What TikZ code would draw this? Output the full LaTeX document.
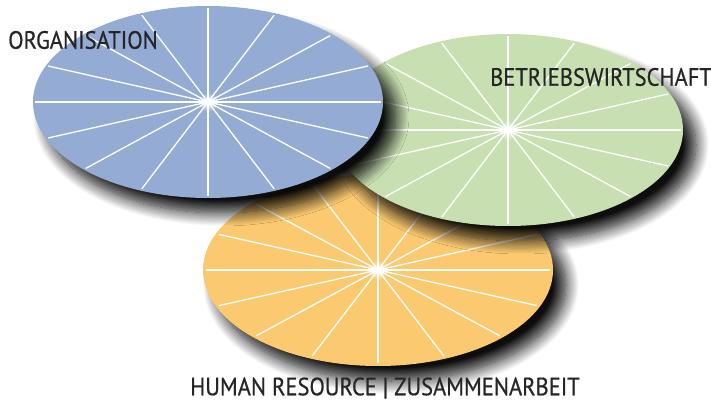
\documentclass[tikz,border=0pt]{standalone}
\usepackage{fontspec}
\setmainfont{PT Sans}
\newfontfamily\labelfont[FakeStretch=0.9,FakeBold=0.6]{PT Sans}
\usepackage{tikz}
\usetikzlibrary{shapes.geometric,shadows.blur,fadings,positioning}

\definecolor{orgablue}{RGB}{148,171,211}
\definecolor{bwlgreen}{RGB}{200,223,178}
\definecolor{hrorange}{RGB}{251,202,112}
\definecolor{labelgrey}{RGB}{38,38,38}

\tikzfading[name=glow, inner color=transparent!0, outer color=transparent!100]

\begin{document}
\begin{tikzpicture}[x=1pt,y=1pt,
		disc/.style={ellipse, minimum width=350pt, minimum height=192pt, inner sep=0pt,
			blur shadow={shadow xshift=13pt, shadow yshift=-15pt, shadow blur radius=13pt,
				shadow blur steps=16, shadow opacity=95}},
		spoke/.style={white, line width=1.3pt},
		label/.style={labelgrey, font=\labelfont\fontsize{25}{25}\selectfont, inner sep=0pt}]
		\useasboundingbox (0,0) rectangle (711,402);

		% three discs, bottom one first
		\node[disc, fill=hrorange] (hr) at (378,132) {};
		\foreach \a in {0,22.5,...,337.5}
			\draw[spoke] (hr.center) -- ++({172*cos(\a)},{93*sin(\a)});
		\fill[white, path fading=glow] (hr.center) circle (10);

		\node[disc, fill=bwlgreen] (bwl) at (508,272) {};
		\foreach \a in {0,22.5,...,337.5}
			\draw[spoke] (bwl.center) -- ++({173*cos(\a)},{94*sin(\a)});
		\fill[white, path fading=glow] (bwl.center) circle (10);

		\node[disc, fill=orgablue] (orga) at (208,300) {};
		\foreach \a in {0,22.5,...,337.5}
			\draw[spoke] (orga.center) -- ++({173*cos(\a)},{94*sin(\a)});
		\fill[white, path fading=glow] (orga.center) circle (10);

		% labels
		\node[label] (orgatext) at (83,362) {ORGANISATION};
		\node[label] (bwltext) at (601,325) {BETRIEBSWIRTSCHAFT};
		\node[label] (hrtext) at (385,14) {HUMAN RESOURCE | ZUSAMMENARBEIT};
	\end{tikzpicture}
\end{document}
